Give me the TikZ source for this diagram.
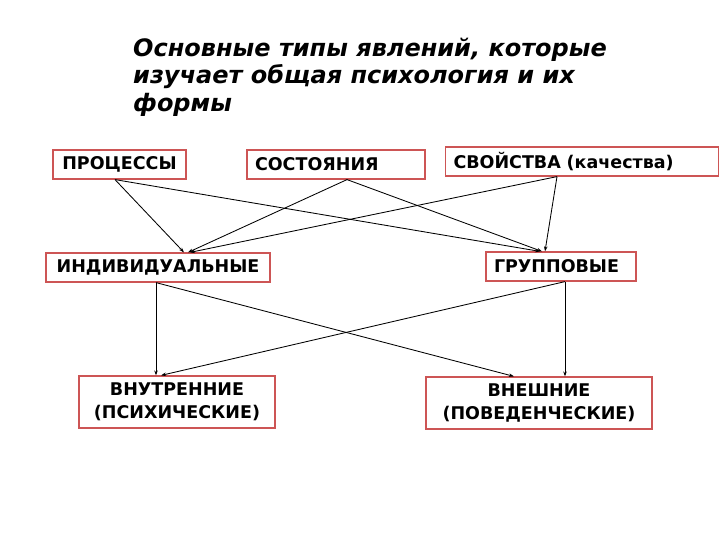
\documentclass[tikz,border=0pt]{standalone}
\usepackage{fontspec}
\setmainfont{DejaVu Sans}
\usetikzlibrary{arrows.meta}
\definecolor{boxred}{RGB}{205,85,85}
\tikzset{
  box/.style={draw=boxred, line width=1.2pt, fill=white, minimum height=29pt, inner xsep=8pt, inner ysep=2pt, font=\bfseries\fontsize{17.5}{20}\selectfont},
  bigbox/.style={box, minimum height=52pt, align=center, font=\bfseries\fontsize{17.5}{23}\selectfont},
  conn/.style={draw=black, line width=0.85pt, -{Stealth[length=5pt,width=3.5pt]}},
  title/.style={anchor=north west, align=left, inner sep=0pt, font=\bfseries\itshape\fontsize{24}{27.5}\selectfont}
}
\begin{document}
\begin{tikzpicture}[x=1pt,y=-1pt]
\useasboundingbox (0,0) rectangle (720,540);
\fill[white] (0,0) rectangle (720,540);
\node[title] (t) at (133,37.5) {Основные типы явлений, которые\\изучает общая психология и их\\формы};
\node[box, minimum width=133pt, text width=117pt, align=center] (proc) at (119.5,164.5) {ПРОЦЕССЫ};
\node[box, minimum width=178pt, text width=162pt, align=left] (sost) at (336,164.5) {СОСТОЯНИЯ};
\node[box, minimum width=273pt, text width=257pt, align=left] (svoi) at (582,161.5) {СВОЙСТВА (качества)};
\node[box, minimum width=224pt, text width=208pt, align=center] (indiv) at (158,267.5) {ИНДИВИДУАЛЬНЫЕ};
\node[box, minimum width=150pt, text width=134pt, align=left] (grup) at (561,266.5) {ГРУППОВЫЕ};
\node[bigbox, minimum width=196pt, text width=180pt] (vnutr) at (177,402) {ВНУТРЕННИЕ\\(ПСИХИЧЕСКИЕ)};
\node[bigbox, minimum width=226pt, text width=210pt] (vnesh) at (539,403) {ВНЕШНИЕ\\(ПОВЕДЕНЧЕСКИЕ)};
\draw[conn] ([xshift=-4.5pt]proc.south) -- ([xshift=26pt]indiv.north);
\draw[conn] ([xshift=-4.5pt]proc.south) -- ([xshift=-21pt]grup.north);
\draw[conn] ([xshift=11pt]sost.south) -- ([xshift=30pt]indiv.north);
\draw[conn] ([xshift=11pt]sost.south) -- ([xshift=-19pt]grup.north);
\draw[conn] ([xshift=-25pt]svoi.south) -- ([xshift=32pt]indiv.north);
\draw[conn] ([xshift=-25pt]svoi.south) -- ([xshift=-16pt]grup.north);
\draw[conn] ([xshift=-2pt]indiv.south) -- ([xshift=-21pt]vnutr.north);
\draw[conn] ([xshift=-2pt]indiv.south) -- ([xshift=-25pt]vnesh.north);
\draw[conn] ([xshift=4pt]grup.south) -- ([xshift=-16pt]vnutr.north);
\draw[conn] ([xshift=4pt]grup.south) -- ([xshift=26pt]vnesh.north);
\end{tikzpicture}
\end{document}
